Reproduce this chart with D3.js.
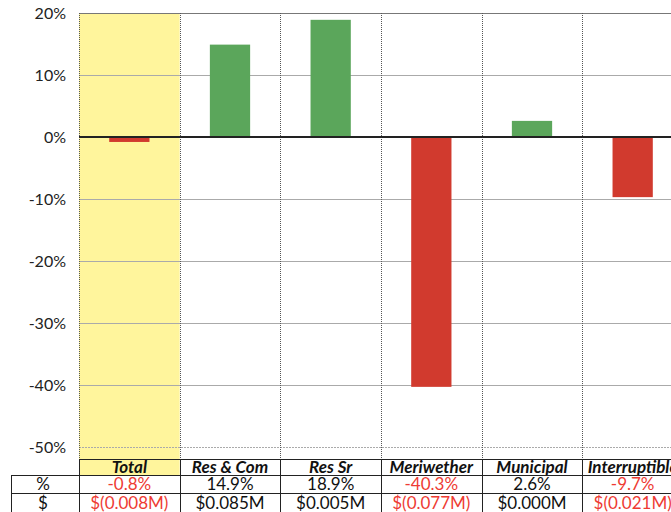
<!DOCTYPE html>
<html>
<head>
<meta charset="utf-8">
<script src="https://cdn.jsdelivr.net/npm/d3@7/dist/d3.min.js"></script>
<style>
  html, body { margin: 0; padding: 0; background: #fff; }
  svg { display: block; font-family: Lato, "Open Sans", "Liberation Sans", sans-serif; }
</style>
</head>
<body>
<svg id="chart" width="671" height="512"></svg>
<script>
// Year-over-year change by customer class
const categories = ["Total", "Res & Com", "Res Sr", "Meriwether", "Municipal", "Interruptible"];
const pctChange = [-0.8, 14.9, 18.9, -40.3, 2.6, -9.7];
const pctLabels = ["-0.8%", "14.9%", "18.9%", "-40.3%", "2.6%", "-9.7%"];
const dollarLabels = ["$(0.008M)", "$0.085M", "$0.005M", "$(0.077M)", "$0.000M", "$(0.021M)"];
const yTicks = [20, 10, 0, -10, -20, -30, -40, -50];

const svg = d3.select("#chart");
const plotLeft = 79, plotRight = 683, plotTop = 13, plotBottom = 447;
const tableTop = 459, headerBottom = 475, pctBottom = 493, tableBottom = 512;
const labelColLeft = 11;
const tableFont = 17;

const y = d3.scaleLinear().domain([-50, 20]).range([plotBottom, plotTop]);
const col = d3.scaleBand().domain(categories).range([plotLeft, plotRight]);
const bar = d3.scaleBand().domain(categories).range([plotLeft, plotRight])
  .paddingInner(0.6).paddingOuter(0.3);

const green = "#5ba65b", red = "#d13a2e", textRed = "#ee3b33";

// highlight band behind the Total column (chart + header cell)
svg.append("rect")
  .attr("x", col("Total")).attr("y", plotTop)
  .attr("width", col.bandwidth()).attr("height", headerBottom - plotTop)
  .attr("fill", "#fff59c");

// horizontal gridlines
svg.append("g").selectAll("line").data(yTicks.filter(t => t !== 0)).join("line")
  .attr("x1", plotLeft).attr("x2", plotRight)
  .attr("y1", d => Math.round(y(d)) + 0.5).attr("y2", d => Math.round(y(d)) + 0.5)
  .attr("stroke", d => d === 20 ? "#777" : "#aaa")
  .attr("stroke-width", 1)
  .attr("stroke-dasharray", d => d === -50 ? "2,1" : null);

// vertical column separators
const colEdges = categories.map(d => col(d)).concat([col("Interruptible") + col.bandwidth()]);
svg.append("g").selectAll("line").data(colEdges).join("line")
  .attr("x1", d => Math.round(d) + 0.5).attr("x2", d => Math.round(d) + 0.5)
  .attr("y1", plotTop).attr("y2", tableTop)
  .attr("stroke", "#555").attr("stroke-width", 1).attr("stroke-dasharray", "1,1");

// bars
svg.append("g").selectAll("rect").data(categories).join("rect")
  .attr("x", d => bar(d))
  .attr("width", bar.bandwidth())
  .attr("y", (d, i) => y(Math.max(0, pctChange[i])))
  .attr("height", (d, i) => Math.abs(y(pctChange[i]) - y(0)))
  .attr("fill", (d, i) => pctChange[i] < 0 ? red : green);

// zero line
svg.append("line")
  .attr("x1", plotLeft).attr("x2", plotRight)
  .attr("y1", y(0)).attr("y2", y(0))
  .attr("stroke", "#222").attr("stroke-width", 2);

// y axis labels
const yAxis = d3.axisLeft(y).tickValues(yTicks).tickFormat(d => d + "%").tickSize(0).tickPadding(13);
const ya = svg.append("g").attr("transform", `translate(${plotLeft},0)`).call(yAxis);
ya.select(".domain").remove();
ya.selectAll("text").attr("font-size", 16).attr("fill", "#222")
  .attr("font-family", "Lato, 'Open Sans', sans-serif");

// data table
const t = svg.append("g");
const rowText = (yPos, texts, colorFn, weight, style) => {
  t.append("g").selectAll("text").data(categories).join("text")
    .attr("x", d => col(d) + col.bandwidth() / 2)
    .attr("y", yPos)
    .attr("text-anchor", "middle")
    .attr("font-size", tableFont)
    .attr("font-weight", weight)
    .attr("font-style", style)
    .attr("fill", (d, i) => colorFn(i))
    .text((d, i) => texts[i]);
};
rowText(headerBottom - 2, categories, () => "#111", "bold", "italic");
rowText(pctBottom - 3, pctLabels, i => pctChange[i] < 0 ? textRed : "#111", "normal", "normal");
rowText(tableBottom - 3, dollarLabels, i => pctChange[i] < 0 ? textRed : "#111", "normal", "normal");

// row labels
t.append("text").attr("x", 43).attr("y", pctBottom - 3).attr("text-anchor", "middle")
  .attr("font-size", tableFont).attr("fill", "#111").text("%");
t.append("text").attr("x", 43).attr("y", tableBottom - 3).attr("text-anchor", "middle")
  .attr("font-size", tableFont).attr("fill", "#111").text("$");

// table borders
const lineColor = "#222";
t.append("line").attr("x1", plotLeft).attr("x2", 671).attr("y1", tableTop + 0.5).attr("y2", tableTop + 0.5)
  .attr("stroke", lineColor);
[headerBottom, pctBottom].forEach(yy => {
  t.append("line").attr("x1", labelColLeft).attr("x2", 671).attr("y1", yy + 0.5).attr("y2", yy + 0.5)
    .attr("stroke", lineColor);
});
t.append("line").attr("x1", labelColLeft + 0.5).attr("x2", labelColLeft + 0.5)
  .attr("y1", headerBottom).attr("y2", tableBottom).attr("stroke", lineColor);
t.append("g").selectAll("line").data(categories).join("line")
  .attr("x1", d => Math.round(col(d)) + 0.5).attr("x2", d => Math.round(col(d)) + 0.5)
  .attr("y1", tableTop).attr("y2", tableBottom).attr("stroke", lineColor);
</script>
</body>
</html>
